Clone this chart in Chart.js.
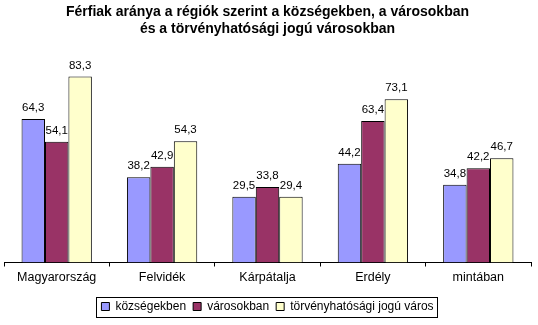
<!DOCTYPE html>
<html>
<head>
<meta charset="utf-8">
<script src="https://cdn.jsdelivr.net/npm/chart.js@4"></script>
<style>
  html, body { margin: 0; padding: 0; background: #fff; }
  #wrap { width: 538px; height: 325px; }
</style>
</head>
<body>
<div id="wrap"><canvas id="chart" width="538" height="325"></canvas></div>
<script>
const categories = ['Magyarország', 'Felvidék', 'Kárpátalja', 'Erdély', 'mintában'];
const seriesNames = ['községekben', 'városokban', 'törvényhatósági jogú város'];
const kozsegek = [64.3, 38.2, 29.5, 44.2, 34.8];
const varosok = [54.1, 42.9, 33.8, 63.4, 42.2];
const thjVarosok = [83.3, 54.3, 29.4, 73.1, 46.7];
const colors = ['#9999FF', '#993366', '#FFFFCC'];

// értékek a oszlopok fölött
const valueLabels = {
    id: 'valueLabels',
    afterDatasetsDraw(chart) {
        const c = chart.ctx;
        c.save();
        c.font = '11.5px Arial';
        c.fillStyle = '#000';
        c.textAlign = 'center';
        c.textBaseline = 'alphabetic';
        chart.data.datasets.forEach((ds, i) => {
            chart.getDatasetMeta(i).data.forEach((bar, j) => {
                c.fillText(ds.data[j].toFixed(1).replace('.', ','), bar.x, bar.y - 8);
            });
        });
        c.restore();
    }
};

// keret a jelmagyarázat körül
const legendBox = {
    id: 'legendBox',
    afterDraw(chart) {
        const lg = chart.legend;
        if (!lg || !lg.legendHitBoxes.length) return;
        const boxes = lg.legendHitBoxes;
        const left = boxes[0].left - 5;
        const last = boxes[boxes.length - 1];
        const right = last.left + last.width + 4;
        const top = boxes[0].top - 4;
        const c = chart.ctx;
        c.save();
        c.strokeStyle = '#000';
        c.lineWidth = 1;
        c.strokeRect(Math.round(left) + 0.5, Math.round(top) + 0.5, Math.round(right - left), 20);
        c.restore();
    }
};

const datasets = [kozsegek, varosok, thjVarosok].map((d, i) => ({
    label: seriesNames[i],
    data: d,
    backgroundColor: colors[i],
    borderColor: '#000',
    borderWidth: 1,
    borderSkipped: 'bottom',
    barPercentage: 1,
    categoryPercentage: 0.667
}));

new Chart(document.getElementById('chart'), {
    type: 'bar',
    data: { labels: categories, datasets: datasets },
    plugins: [valueLabels, legendBox],
    options: {
        responsive: false,
        animation: false,
        layout: { padding: { left: 4, right: 7, top: 0, bottom: 2.5 } },
        scales: {
            y: { display: false, min: 0, max: 90 },
            x: {
                grid: { drawOnChartArea: false, drawTicks: true, tickLength: 4, color: '#000', offset: true },
                border: { display: true, color: '#000', width: 1 },
                ticks: { color: '#000', font: { family: 'Arial', size: 12.5 }, padding: 4 },
                afterFit: (scale) => { scale.height += 4; }
            }
        },
        plugins: {
            title: {
                display: true,
                text: ['Férfiak aránya a régiók szerint a községekben, a városokban', 'és a törvényhatósági jogú városokban'],
                color: '#000',
                font: { family: 'Arial', size: 14, weight: 'bold', lineHeight: 1.2 },
                padding: { top: 4, bottom: 24 }
            },
            legend: {
                position: 'bottom',
                labels: {
                    color: '#000',
                    font: { family: 'Arial', size: 12 },
                    boxWidth: 8,
                    boxHeight: 8,
                    padding: 7
                }
            },
            tooltip: { enabled: false }
        }
    }
});
</script>
</body>
</html>
